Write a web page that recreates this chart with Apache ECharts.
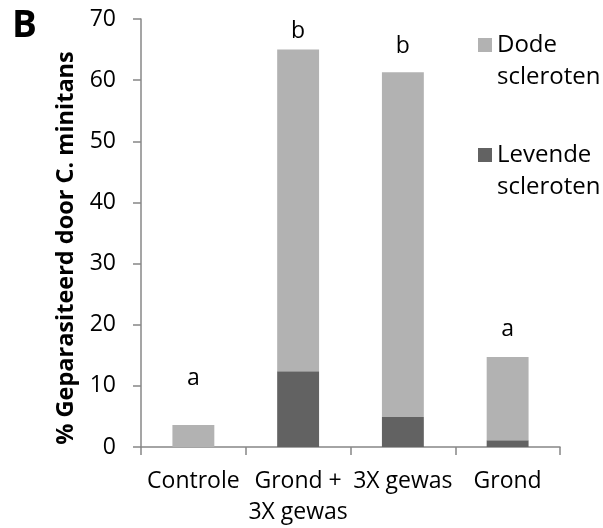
<!DOCTYPE html>
<html>
<head>
<meta charset="utf-8">
<script src="https://cdn.jsdelivr.net/npm/echarts@6/dist/echarts.min.js"></script>
<style>
html,body{margin:0;padding:0;background:#fff;}
#chart{width:603px;height:528px;}
</style>
</head>
<body>
<div id="chart"></div>
<script>
const categories = ['Controle', 'Grond +\n3X gewas', '3X gewas', 'Grond'];
const levende = [0, 12.4, 4.9, 1.1];
const dode = [3.6, 52.6, 56.4, 13.6];
const letters = ['a', 'b', 'b', 'a'];
const letterY = [11.2, 67.9, 65.5, 19.2];
const seriesNames = ['Dode\nscleroten', 'Levende\nscleroten'];
const yTicks = { min: 0, max: 70, interval: 10 };

const FONT = 'Open Sans';
const chart = echarts.init(document.getElementById('chart'), null, { renderer: 'canvas' });
chart.setOption({
  animation: false,
  backgroundColor: '#fff',
  title: {
    text: 'B', left: 7, top: 3, padding: 5,
    textStyle: { fontFamily: FONT, fontWeight: 'bold', fontSize: 37, color: '#000' }
  },
  grid: { left: 141, right: 43, top: 19, bottom: 80, containLabel: false },
  legend: {
    orient: 'vertical', left: 478, top: -3, itemGap: 14, padding: 0,
    itemWidth: 14, itemHeight: 14, icon: 'rect',
    data: [seriesNames[0], seriesNames[1]],
    formatter: name => '\n' + name,
    textStyle: { fontFamily: FONT, fontSize: 24, color: '#000', lineHeight: 32 }
  },
  xAxis: {
    type: 'category', data: categories,
    axisLine: { lineStyle: { color: '#878787', width: 1.5 } },
    axisTick: { show: true, length: 8, lineStyle: { color: '#878787', width: 1.5 } },
    axisLabel: { fontFamily: FONT, fontSize: 23, color: '#000', margin: 19, lineHeight: 31, interval: 0 }
  },
  yAxis: {
    type: 'value', min: yTicks.min, max: yTicks.max, interval: yTicks.interval,
    name: '% Geparasiteerd door C. minitans', nameLocation: 'middle', nameGap: 60,
    nameTextStyle: { fontFamily: FONT, fontWeight: 'bold', fontSize: 23.5, color: '#000', padding: [0, 30, 0, 0] },
    axisLine: { show: true, lineStyle: { color: '#878787', width: 1.5 } },
    axisTick: { show: true, length: 8, lineStyle: { color: '#878787', width: 1.5 } },
    splitLine: { show: false },
    axisLabel: { fontFamily: FONT, fontSize: 23, color: '#000', margin: 25 }
  },
  series: [
    {
      name: seriesNames[1], type: 'bar', stack: 'total', barWidth: '40%',
      itemStyle: { color: '#626262' }, data: levende
    },
    {
      name: seriesNames[0], type: 'bar', stack: 'total', barWidth: '40%',
      itemStyle: { color: '#b2b2b2' }, data: dode
    },
    {
      name: 'letters', type: 'scatter', symbolSize: 1,
      itemStyle: { color: 'rgba(0,0,0,0)', opacity: 1 },
      data: letterY.map((v, i) => [i, v]),
      label: {
        show: true, position: 'inside', fontFamily: FONT, fontSize: 23, color: '#000', opacity: 1,
        formatter: p => letters[p.dataIndex]
      },
      emphasis: { disabled: true },
      tooltip: { show: false }
    }
  ]
});
</script>
</body>
</html>
